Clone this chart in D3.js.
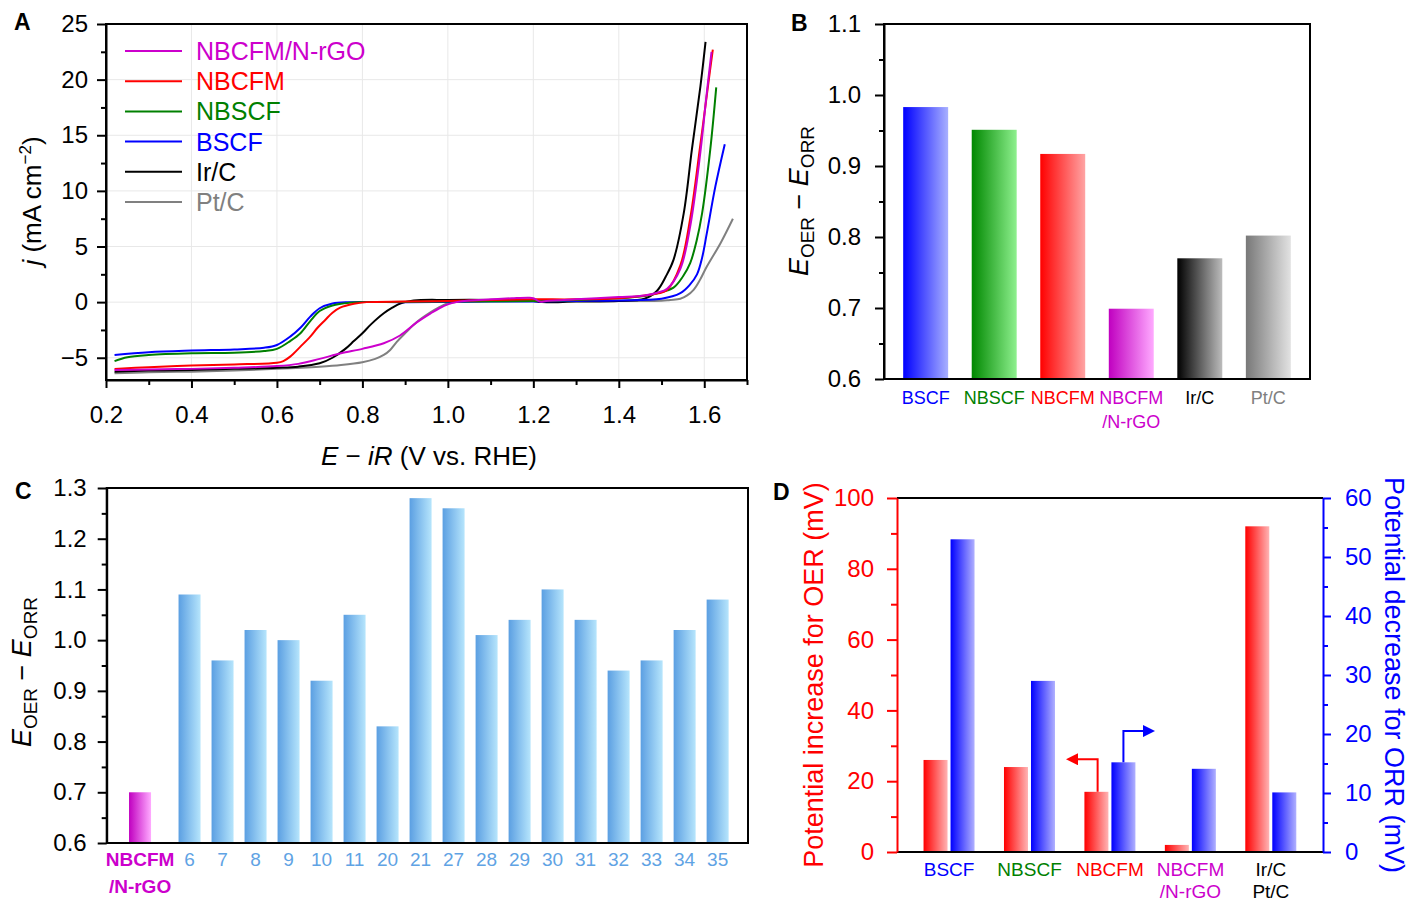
<!DOCTYPE html>
<html><head><meta charset="utf-8">
<script src="https://cdn.jsdelivr.net/npm/d3@7"></script>
<style>body{margin:0;background:#fff;}</style>
</head><body><svg id="c" width="1412" height="901" style="background:#fff"></svg>
<script>
// ---------------- DATA ----------------
// Panel A: LSV curves [E (V vs RHE), j (mA cm-2)]
const seriesA = ["NBCFM/N-rGO","NBCFM","NBSCF","BSCF","Ir/C","Pt/C"];
const colorsA = ["#cc00cc","#ff0000","#008000","#0000ff","#000000","#808080"];
const curveNrGO = [[0.22,-6.1],[0.3,-6.05],[0.4,-6.0],[0.5,-5.9],[0.6,-5.75],[0.65,-5.55],[0.7,-5.1],[0.75,-4.6],[0.8,-4.2],[0.85,-3.7],[0.888,-3.0],[0.928,-1.8],[0.96,-1.0],[0.98,-0.55],[1.0,-0.2],[1.02,0.0],[1.05,0.15],[1.1,0.25],[1.15,0.35],[1.19,0.4],[1.2,0.35],[1.215,0.05],[1.23,0.1],[1.3,0.25],[1.4,0.45],[1.46,0.6],[1.49,0.85],[1.513,1.2],[1.544,3.0],[1.567,6.8],[1.591,13.5],[1.605,18.5],[1.617,22.5]];
const curveNBCFM = [[0.22,-6.0],[0.3,-5.85],[0.4,-5.7],[0.5,-5.6],[0.6,-5.45],[0.615,-5.3],[0.631,-4.9],[0.655,-4.0],[0.678,-3.1],[0.695,-2.3],[0.713,-1.6],[0.73,-0.95],[0.748,-0.5],[0.78,-0.15],[0.81,0.0],[0.9,0.05],[1.0,0.1],[1.1,0.2],[1.2,0.25],[1.3,0.25],[1.4,0.35],[1.48,0.7],[1.513,1.1],[1.544,3.3],[1.567,7.5],[1.591,14.2],[1.61,19.8],[1.62,22.7]];
const curveNBSCF = [[0.22,-5.3],[0.25,-4.95],[0.3,-4.75],[0.4,-4.6],[0.5,-4.55],[0.57,-4.4],[0.6,-4.2],[0.631,-3.5],[0.655,-2.8],[0.678,-1.7],[0.7,-0.8],[0.73,-0.3],[0.77,-0.05],[0.8,0.0],[1.0,0.05],[1.2,0.1],[1.3,0.2],[1.4,0.35],[1.46,0.55],[1.49,0.8],[1.528,1.3],[1.55,2.3],[1.567,3.5],[1.582,5.5],[1.595,8.0],[1.614,13.7],[1.628,19.3]];
const curveBSCF = [[0.22,-4.75],[0.3,-4.5],[0.4,-4.35],[0.5,-4.25],[0.57,-4.1],[0.6,-3.85],[0.631,-3.1],[0.655,-2.3],[0.678,-1.3],[0.7,-0.55],[0.73,-0.12],[0.77,0.0],[0.9,0.0],[1.0,0.02],[1.1,0.05],[1.2,0.05],[1.3,0.1],[1.4,0.15],[1.5,0.3],[1.544,0.8],[1.565,1.5],[1.583,2.5],[1.595,4.0],[1.606,6.2],[1.626,10.4],[1.648,14.2]];
const curveIrC = [[0.22,-6.25],[0.3,-6.15],[0.4,-6.1],[0.5,-6.0],[0.6,-5.9],[0.65,-5.8],[0.7,-5.5],[0.73,-5.0],[0.76,-4.2],[0.78,-3.5],[0.8,-2.8],[0.82,-2.0],[0.85,-1.0],[0.87,-0.5],[0.89,-0.1],[0.92,0.15],[1.0,0.2],[1.1,0.2],[1.18,0.15],[1.2,0.1],[1.22,0.0],[1.3,0.05],[1.4,0.1],[1.46,0.3],[1.489,1.0],[1.51,2.3],[1.528,3.8],[1.552,8.0],[1.571,13.7],[1.591,19.4],[1.603,23.4]];
const curvePtC = [[0.22,-6.4],[0.3,-6.3],[0.4,-6.25],[0.5,-6.15],[0.6,-6.0],[0.7,-5.8],[0.75,-5.65],[0.8,-5.4],[0.83,-5.1],[0.85,-4.75],[0.865,-4.3],[0.88,-3.6],[0.9,-2.8],[0.93,-1.7],[0.96,-0.9],[0.98,-0.45],[1.0,-0.1],[1.03,0.05],[1.1,0.1],[1.2,0.1],[1.3,0.1],[1.4,0.1],[1.5,0.12],[1.52,0.2],[1.544,0.3],[1.56,0.6],[1.575,1.1],[1.59,2.0],[1.606,3.2],[1.638,5.3],[1.667,7.5]];
const curvesA = [curveNrGO, curveNBCFM, curveNBSCF, curveBSCF, curveIrC, curvePtC];
const xTicksA = [0.2,0.4,0.6,0.8,1.0,1.2,1.4,1.6];
const xMinorA = [0.3,0.5,0.7,0.9,1.1,1.3,1.5,1.7];
const yTicksA = [-5,0,5,10,15,20,25];
const yMinorA = [-2.5,2.5,7.5,12.5,17.5,22.5];

// Panel B
const catsB = ["BSCF","NBSCF","NBCFM","NBCFM/N-rGO","Ir/C","Pt/C"];
const valsB = [0.983,0.951,0.917,0.699,0.770,0.802];
const colorsB = [["#0000ff","#a8b0ff"],["#008800","#8ef08e"],["#ff0000","#ffa4a4"],["#c000c0","#ffaaff"],["#000000","#bcbcbc"],["#787878","#e2e2e2"]];
const labelColorsB = ["#0000ff","#008000","#ff0000","#cc00cc","#000000","#808080"];
const yTicksB = [0.6,0.7,0.8,0.9,1.0,1.1];
const yMinorB = [0.65,0.75,0.85,0.95,1.05];

// Panel C
const catsC = ["NBCFM/N-rGO","6","7","8","9","10","11","20","21","27","28","29","30","31","32","33","34","35"];
const valsC = [0.70,1.09,0.96,1.02,1.00,0.92,1.05,0.83,1.28,1.26,1.01,1.04,1.10,1.04,0.94,0.96,1.02,1.08];
const yTicksC = [0.6,0.7,0.8,0.9,1.0,1.1,1.2,1.3];
const yMinorC = [0.65,0.75,0.85,0.95,1.05,1.15,1.25];

// Panel D
const catsD = ["BSCF","NBSCF","NBCFM","NBCFM/N-rGO","Ir/C|Pt/C"];
const labelColorsD = ["#0000ff","#008000","#ff0000","#cc00cc","#000000"];
const oerIncrease = [26,24,17,2,92];       // left axis (mV)
const orrDecrease = [53,29,15.2,14.1,10.1]; // right axis (mV)
const yTicksDL = [0,20,40,60,80,100];
const yMinorDL = [10,30,50,70,90];
const yTicksDR = [0,10,20,30,40,50,60];
const yMinorDR = [5,15,25,35,45,55];
const arrowLevelOER = 26.2; // left-axis value of red arrow
const arrowLevelORR = 20.5; // right-axis value of blue arrow

// ---------------- DRAWING ----------------
const FONT = "'Liberation Sans', Arial, Helvetica, sans-serif";
const svg = d3.select("#c").attr("font-family", FONT);
const defs = svg.append("defs");
function grad(id, c1, c2){
  const g = defs.append("linearGradient").attr("id", id).attr("x1","0%").attr("x2","100%").attr("y1","0%").attr("y2","0%");
  g.append("stop").attr("offset","0%").attr("stop-color", c1);
  g.append("stop").attr("offset","100%").attr("stop-color", c2);
}
function styleAxis(g, color, size){
  g.attr("font-family", FONT).attr("font-size", size || 24);
  g.select(".domain").attr("stroke", color).attr("stroke-width", 2);
  g.selectAll(".tick line").attr("stroke", color).attr("stroke-width", 2);
  g.selectAll(".tick text").attr("fill", color);
}
function minor(g){ g.select(".domain").remove(); g.selectAll(".tick line").attr("stroke-width",2); }
function box(x0,y0,x1,y1,color){
  svg.append("rect").attr("x",x0).attr("y",y0).attr("width",x1-x0).attr("height",y1-y0)
    .attr("fill","none").attr("stroke",color||"#000").attr("stroke-width",2);
}
function panelLabel(t,x,y){ svg.append("text").attr("x",x).attr("y",y).attr("font-weight","bold").attr("font-size",23).text(t); }
function eTitle(x, y, rot){
  const t = svg.append("text").attr("transform", `translate(${x},${y}) rotate(${rot})`).attr("text-anchor","middle").attr("font-size",27);
  t.append("tspan").attr("font-style","italic").text("E");
  t.append("tspan").attr("font-size",19).attr("dy",6).text("OER");
  t.append("tspan").attr("dy",-6).text(" \u2212 ");
  t.append("tspan").attr("font-style","italic").text("E");
  t.append("tspan").attr("font-size",19).attr("dy",6).text("ORR");
}

// ===== Panel A =====
const A = {l:106, r:747, t:24, b:380};
const xA = d3.scaleLinear().domain([0.2,1.7]).range([A.l, A.r]);
const yA = d3.scaleLinear().domain([-7,25]).range([A.b, A.t]);
const gA = svg.append("g");
gA.selectAll(".vg").data(xTicksA.slice(1)).join("line").attr("x1",d=>xA(d)).attr("x2",d=>xA(d)).attr("y1",A.t).attr("y2",A.b).attr("stroke","#e8e8e8").attr("stroke-width",1);
gA.selectAll(".hg").data(yTicksA.slice(0,-1)).join("line").attr("y1",d=>yA(d)).attr("y2",d=>yA(d)).attr("x1",A.l).attr("x2",A.r).attr("stroke","#e8e8e8").attr("stroke-width",1);
const line = d3.line().x(d=>xA(d[0])).y(d=>yA(d[1])).curve(d3.curveCatmullRom.alpha(0.5));
const drawOrder = [5,4,3,2,1,0];
drawOrder.forEach(i=>{
  gA.append("path").attr("d", line(curvesA[i])).attr("fill","none").attr("stroke", colorsA[i]).attr("stroke-width",2).attr("stroke-linejoin","round");
});
gA.append("g").attr("transform",`translate(0,${A.b})`).call(d3.axisBottom(xA).tickValues(xTicksA).tickFormat(d3.format(".1f")).tickSize(8).tickPadding(18).tickSizeOuter(0)).call(g=>styleAxis(g,"#000"));
gA.append("g").attr("transform",`translate(0,${A.b})`).call(d3.axisBottom(xA).tickValues(xMinorA).tickFormat("").tickSize(5)).call(minor);
gA.append("g").attr("transform",`translate(${A.l},0)`).call(d3.axisLeft(yA).tickValues(yTicksA).tickFormat(d=>d<0?"\u2212"+Math.abs(d):d).tickSize(9).tickPadding(9).tickSizeOuter(0)).call(g=>styleAxis(g,"#000"));
gA.append("g").attr("transform",`translate(${A.l},0)`).call(d3.axisLeft(yA).tickValues(yMinorA).tickFormat("").tickSize(5)).call(minor);
box(A.l,A.t,A.r,A.b);
// legend
const leg = gA.append("g");
seriesA.forEach((s,i)=>{
  const yy = 51 + i*30.2;
  leg.append("line").attr("x1",125).attr("x2",182).attr("y1",yy).attr("y2",yy).attr("stroke",colorsA[i]).attr("stroke-width",2);
  leg.append("text").attr("x",196).attr("y",yy+9).attr("font-size",25).attr("fill",colorsA[i]).text(s);
});
// titles
{
  const t = svg.append("text").attr("transform","translate(41,201) rotate(-90)").attr("text-anchor","middle").attr("font-size",26);
  t.append("tspan").attr("font-style","italic").text("j");
  t.append("tspan").text(" (mA cm");
  t.append("tspan").attr("font-size",17).attr("dy",-10).text("\u22122");
  t.append("tspan").attr("dy",10).text(")");
  const u = svg.append("text").attr("x",429).attr("y",465).attr("text-anchor","middle").attr("font-size",26);
  u.append("tspan").attr("font-style","italic").text("E");
  u.append("tspan").text(" \u2212 ");
  u.append("tspan").attr("font-style","italic").text("iR");
  u.append("tspan").text(" (V vs. RHE)");
}
panelLabel("A",14,30);

// ===== Panel B =====
const B = {l:884, r:1310, t:24, b:379};
const xB = d3.scaleBand().domain(catsB).range([B.l,B.r]).paddingInner(0.344).paddingOuter(0.28);
const yB = d3.scaleLinear().domain([0.6,1.1]).range([B.b,B.t]);
colorsB.forEach((c,i)=>grad("gB"+i,c[0],c[1]));
svg.append("g").selectAll("rect").data(valsB).join("rect")
  .attr("x",(d,i)=>xB(catsB[i])).attr("width",xB.bandwidth())
  .attr("y",d=>yB(d)).attr("height",d=>yB(0.6)-yB(d))
  .attr("fill",(d,i)=>`url(#gB${i})`);
svg.append("g").attr("transform",`translate(${B.l},0)`).call(d3.axisLeft(yB).tickValues(yTicksB).tickFormat(d3.format(".1f")).tickSize(9).tickPadding(14).tickSizeOuter(0)).call(g=>styleAxis(g,"#000"));
svg.append("g").attr("transform",`translate(${B.l},0)`).call(d3.axisLeft(yB).tickValues(yMinorB).tickFormat("").tickSize(5)).call(minor);
box(B.l,B.t,B.r,B.b);
catsB.forEach((c,i)=>{
  const cx = xB(c)+xB.bandwidth()/2;
  const parts = c==="NBCFM/N-rGO" ? ["NBCFM","/N-rGO"] : [c];
  parts.forEach((p,j)=>svg.append("text").attr("x",cx).attr("y",404+j*24).attr("text-anchor","middle").attr("font-size",18).attr("fill",labelColorsB[i]).text(p));
});
eTitle(808,201,-90);
panelLabel("B",791,31);

// ===== Panel C =====
const C = {l:106.7, r:748, t:488, b:843};
const slotC = (i)=> i===0 ? 0 : i+0.5;
const xC = d3.scaleLinear().domain([-1.01,18.42]).range([C.l,C.r]);
const yC = d3.scaleLinear().domain([0.6,1.3]).range([C.b,C.t]);
grad("gC0","#c000c0","#ffaaff");
grad("gC1","#5b9fe2","#b6e5fc");
const bwC = 22;
svg.append("g").selectAll("rect").data(valsC).join("rect")
  .attr("x",(d,i)=>xC(slotC(i))-bwC/2).attr("width",bwC)
  .attr("y",d=>yC(d)).attr("height",d=>yC(0.6)-yC(d))
  .attr("fill",(d,i)=> i===0 ? "url(#gC0)" : "url(#gC1)");
svg.append("g").attr("transform",`translate(${C.l},0)`).call(d3.axisLeft(yC).tickValues(yTicksC).tickFormat(d3.format(".1f")).tickSize(9).tickPadding(11).tickSizeOuter(0)).call(g=>styleAxis(g,"#000"));
svg.append("g").attr("transform",`translate(${C.l},0)`).call(d3.axisLeft(yC).tickValues(yMinorC).tickFormat("").tickSize(5)).call(minor);
box(C.l,C.t,C.r,C.b);
catsC.forEach((c,i)=>{
  const cx = xC(slotC(i));
  if(i===0){
    ["NBCFM","/N-rGO"].forEach((p,j)=>svg.append("text").attr("x",cx).attr("y",866+j*27).attr("text-anchor","middle").attr("font-size",19).attr("font-weight","bold").attr("fill","#cc00cc").text(p));
  } else {
    svg.append("text").attr("x",cx).attr("y",866).attr("text-anchor","middle").attr("font-size",19).attr("fill","#5fa3e4").text(c);
  }
});
eTitle(31,672,-90);
panelLabel("C",15,499);

// ===== Panel D =====
const D = {l:897, r:1323, t:498, b:852};
const xD = d3.scaleBand().domain(catsD).range([D.l,D.r]).paddingInner(0.364).paddingOuter(0.33);
const yDL = d3.scaleLinear().domain([0,100]).range([D.b,D.t]);
const yDR = d3.scaleLinear().domain([0,60]).range([D.b,D.t]);
grad("gDr","#ff0000","#ffb4b4");
grad("gDb","#0000ff","#b0b0ff");
const bwD = 24, gapD = 3;
svg.append("g").selectAll("rect").data(oerIncrease).join("rect")
  .attr("x",(d,i)=>xD(catsD[i])).attr("width",bwD)
  .attr("y",d=>yDL(d)).attr("height",d=>yDL(0)-yDL(d)).attr("fill","url(#gDr)");
svg.append("g").selectAll("rect").data(orrDecrease).join("rect")
  .attr("x",(d,i)=>xD(catsD[i])+bwD+gapD).attr("width",bwD)
  .attr("y",d=>yDR(d)).attr("height",d=>yDR(0)-yDR(d)).attr("fill","url(#gDb)");
svg.append("line").attr("x1",D.l).attr("x2",D.r).attr("y1",D.t).attr("y2",D.t).attr("stroke","#000").attr("stroke-width",2);
svg.append("line").attr("x1",D.l).attr("x2",D.r).attr("y1",D.b).attr("y2",D.b).attr("stroke","#000").attr("stroke-width",2);
svg.append("g").attr("transform",`translate(${D.l},0)`).call(d3.axisLeft(yDL).tickValues(yTicksDL).tickSize(10).tickPadding(13).tickSizeOuter(0)).call(g=>styleAxis(g,"#ff0000"));
svg.append("g").attr("transform",`translate(${D.l},0)`).call(d3.axisLeft(yDL).tickValues(yMinorDL).tickFormat("").tickSize(6)).call(g=>{minor(g); g.selectAll(".tick line").attr("stroke","#ff0000");});
svg.append("g").attr("transform",`translate(${D.r},0)`).call(d3.axisRight(yDR).tickValues(yTicksDR).tickSize(8).tickPadding(14).tickSizeOuter(0)).call(g=>styleAxis(g,"#0000ff"));
svg.append("g").attr("transform",`translate(${D.r},0)`).call(d3.axisRight(yDR).tickValues(yMinorDR).tickFormat("").tickSize(5)).call(g=>{minor(g); g.selectAll(".tick line").attr("stroke","#0000ff");});
catsD.forEach((c,i)=>{
  const cx = xD(c)+xD.bandwidth()/2;
  const parts = c==="NBCFM/N-rGO" ? ["NBCFM","/N-rGO"] : c.split("|");
  parts.forEach((p,j)=>svg.append("text").attr("x",cx).attr("y",876+j*22).attr("text-anchor","middle").attr("font-size",19).attr("fill",labelColorsD[i]).text(p));
});
// arrows
function marker(id,color){
  defs.append("marker").attr("id",id).attr("viewBox","0 0 10 10").attr("refX",2).attr("refY",5)
    .attr("markerWidth",6).attr("markerHeight",6).attr("markerUnits","strokeWidth").attr("orient","auto")
    .append("path").attr("d","M0,0 L10,5 L0,10 z").attr("fill",color);
}
marker("arR","#ff0000"); marker("arB","#0000ff");
{
  const k = 2; // NBCFM group
  const xr = xD(catsD[k]) + bwD*0.55;
  svg.append("path").attr("d",`M${xr},${yDL(oerIncrease[k])} V${yDL(arrowLevelOER)} H${xr-22}`)
    .attr("fill","none").attr("stroke","#ff0000").attr("stroke-width",2).attr("marker-end","url(#arR)");
  const xb = xD(catsD[k]) + bwD + gapD + bwD*0.5;
  svg.append("path").attr("d",`M${xb},${yDR(orrDecrease[k])} V${yDR(arrowLevelORR)} H${xb+22}`)
    .attr("fill","none").attr("stroke","#0000ff").attr("stroke-width",2).attr("marker-end","url(#arB)");
}
svg.append("text").attr("transform","translate(823,675) rotate(-90)").attr("text-anchor","middle").attr("font-size",27).attr("fill","#ff0000").text("Potential increase for OER (mV)");
svg.append("text").attr("transform","translate(1385,675) rotate(90)").attr("text-anchor","middle").attr("font-size",27).attr("fill","#0000ff").text("Potential decrease for ORR (mV)");
panelLabel("D",773,500);
</script>
</body></html>
